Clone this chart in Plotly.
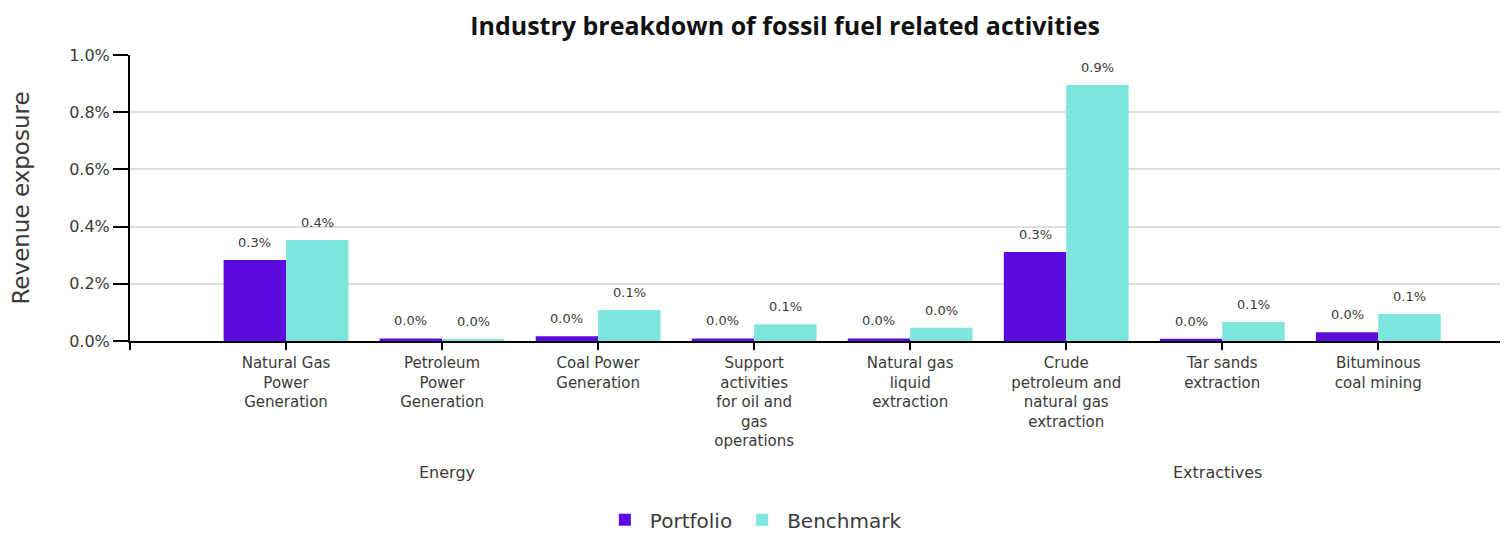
import plotly.graph_objects as go

categories = [
    "Natural Gas<br>Power<br>Generation",
    "Petroleum<br>Power<br>Generation",
    "Coal Power<br>Generation",
    "Support<br>activities<br>for oil and<br>gas<br>operations",
    "Natural gas<br>liquid<br>extraction",
    "Crude<br>petroleum and<br>natural gas<br>extraction",
    "Tar sands<br>extraction",
    "Bituminous<br>coal mining",
]
portfolio = [0.283, 0.009, 0.017, 0.009, 0.009, 0.311, 0.008, 0.031]
benchmark = [0.353, 0.007, 0.108, 0.059, 0.046, 0.895, 0.066, 0.094]
groups = ["Energy", "Extractives"]
group_pos = [2.03, 6.97]
y_ticks = [0.0, 0.2, 0.4, 0.6, 0.8, 1.0]

FONT = "DejaVu Sans"
TFONT = "Open Sans"
TXT = "#3a3a3a"
C_PORT = "#5c0ade"
C_BENCH = "#7ee6df"

# page body has an 8px margin, so the figure is sized to fit the window
W, H = 1500, 529

xpos = list(range(1, len(categories) + 1))

fig = go.Figure()
fig.add_trace(go.Bar(name="Portfolio", x=xpos, y=portfolio, marker_color=C_PORT,
                     marker_line_width=0))
fig.add_trace(go.Bar(name="Benchmark", x=xpos, y=benchmark, marker_color=C_BENCH,
                     marker_line_width=0))

annotations = []
for i, (p, b) in enumerate(zip(portfolio, benchmark)):
    for off, v in ((-0.2, p), (0.2, b)):
        annotations.append(dict(x=xpos[i] + off, y=v, xref="x", yref="y",
                                text=f"{v:.1f}%", showarrow=False, yanchor="bottom",
                                yshift=8, font=dict(family=FONT, size=13, color=TXT)))
for g, gp in zip(groups, group_pos):
    annotations.append(dict(x=gp, y=-0.46, xref="x", yref="paper", text=g,
                            showarrow=False, yanchor="middle",
                            font=dict(family=FONT, size=16, color=TXT)))

fig.update_layout(
    width=W, height=H,
    margin=dict(l=122, r=8, t=47, b=196, autoexpand=False),
    paper_bgcolor="white", plot_bgcolor="white",
    barmode="group", bargap=0.2, bargroupgap=0,
    title=dict(text="<b>Industry breakdown of fossil fuel related activities</b>",
               x=777 / W, xanchor="center", xref="container",
               y=1 - 18 / H, yanchor="middle", yref="container",
               font=dict(family=TFONT, size=25, color="#111111")),
    xaxis=dict(range=[0, 8.78], tickmode="array", tickvals=[0] + xpos,
               ticktext=[""] + categories, showline=True, linecolor="black",
               linewidth=2, ticks="outside", ticklen=7, tickwidth=2, tickcolor="black",
               showgrid=False, zeroline=False, automargin=False,
               tickfont=dict(family=FONT, size=15, color=TXT)),
    yaxis=dict(range=[0, 1.0], tickmode="array", tickvals=y_ticks,
               ticktext=[f"{t:.1f}%" for t in y_ticks], showline=True,
               linecolor="black", linewidth=2, ticks="outside", ticklen=15,
               tickwidth=2, tickcolor="black", showgrid=True, gridcolor="#dddddd",
               gridwidth=2, zeroline=False, automargin=False,
               tickfont=dict(family=FONT, size=16, color=TXT),
               title=dict(text="Revenue exposure", standoff=36,
                          font=dict(family=FONT, size=23, color=TXT))),
    legend=dict(orientation="h", x=0.455, xanchor="center", y=-0.625, yanchor="middle",
                font=dict(family=FONT, size=20, color=TXT), itemwidth=40,
                traceorder="normal"),
    annotations=annotations,
)

fig.write_html("out.html")
